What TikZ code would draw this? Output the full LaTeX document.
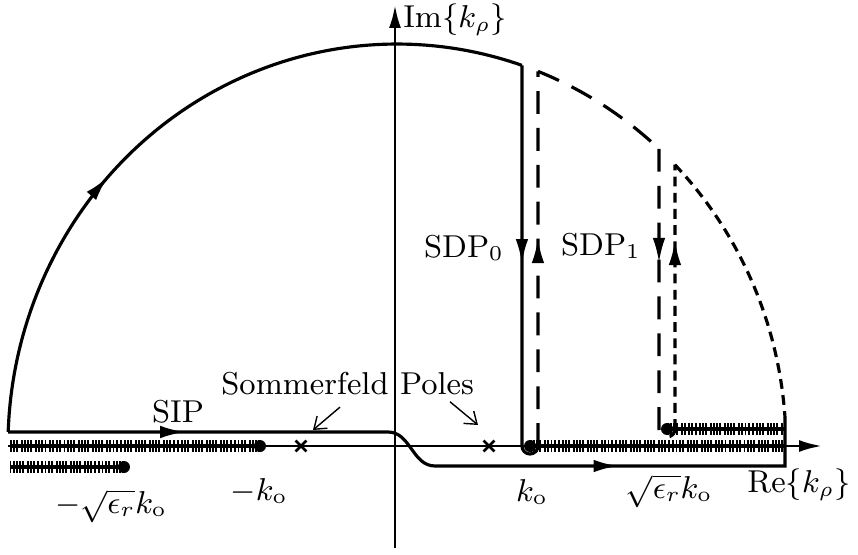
\documentclass[tikz,border=0pt]{standalone}
\usepackage{amsmath}
\usepackage{tikz}
\usetikzlibrary{
arrows.meta,
shapes.misc,
decorations.markings
}

\begin{document}
\begin{tikzpicture}[
font=\small,
axisline/.style={line width=0.8pt,-{Latex[length=2.3mm,width=1.2mm]}},
cntr/.style={line width=0.9pt},
longdash/.style={line width=0.9pt,dash pattern=on 6.5pt off 4pt},
shortdash/.style={line width=0.9pt,dash pattern=on 2.8pt off 1.8pt},
bcut/.style={
line width=0.9pt,
preaction={draw,line width=3.4pt,
dash pattern=on 0.55pt off 0.35pt on 0.55pt off 0.35pt on 0.55pt off 0.35pt on 0.55pt off 0.8pt}
},
bpoint/.style={circle,fill,inner sep=0pt,minimum size=1.2mm},
pole/.style={cross out,draw,line width=0.8pt,inner sep=0pt,minimum size=0.8mm},
tipat/.style={postaction={decorate,decoration={markings,
mark=at position #1 with {\arrow{Latex[length=2.5mm,width=1.25mm]}}}}},
ptr/.style={thin,-{Straight Barb[length=1.1mm,width=1.6mm]}},
rad/.style={x radius=3.89,y radius=4.02}
]
\useasboundingbox (-3.95,-1.08) rectangle (4.63,4.46);

% axes
\coordinate (O) at (0,0);
\draw[axisline] (-3.87,0) -- (4.27,0);
\draw[axisline] (0,-1.02) -- (0,4.41);

% branch points and cuts
\coordinate (mk) at (-1.35,0);
\coordinate (k) at (1.35,0);
\coordinate (mek) at (-2.71,-0.21);
\coordinate (ek) at (2.72,0.17);
\coordinate (cl1) at (-3.85,0);
\coordinate (cl2) at (-3.85,-0.21);
\coordinate (cr1) at (3.90,0);
\coordinate (cr2) at (3.90,0.17);

\draw[bcut] (mk) -- (cl1);
\draw[bcut] (mek) -- (cl2);
\draw[bcut] (k) -- (cr1);
\draw[bcut] (ek) -- (cr2);

\node[bpoint] (dmk) at (mk) {};
\node[bpoint] (dk) at (k) {};
\node[bpoint] (dmek) at (mek) {};
\node[bpoint] (dek) at (ek) {};

\node[pole] (p1) at (-0.94,0) {};
\node[pole] (p2) at (0.94,0) {};

% closing arc and SDP0
\coordinate (A) at (-3.868,0.140);
\draw[cntr,tipat=0.38] (A) arc[rad,start angle=178,end angle=71.26] coordinate (B);
\draw[cntr,tipat=0.49] (B) -- (B |- O) arc[start angle=180,end angle=360,radius=0.08] coordinate (C);
\draw[longdash,tipat=0.555] (C) -- ([shift={(0.02,0)}]68.75:3.89 and 4.02) coordinate (D);
\draw[longdash] (D) arc[rad,start angle=68.75,end angle=47.66] coordinate (E);

% SDP1
\draw[longdash,tipat=0.374] (E) -- (E |- ek) arc[start angle=180,end angle=360,radius=0.08] coordinate (F);
\draw[shortdash,tipat=0.715] (F) -- ([shift={(0.02,0)}]44.4:3.89 and 4.02) coordinate (G);
\draw[shortdash] (G) arc[rad,start angle=44.4,end angle=4.11] coordinate (H);

% SIP
\draw[cntr,tipat=1.77cm,tipat=6.24cm] (A) -- (-0.07,0.14)
to[out=0,in=180] (0.40,-0.2) -- (3.90,-0.2) -- (H);

% labels
\node (lim) at (0.60,4.26) {$\mathrm{Im}\{k_\rho\}$};
\node (lre) at (4.04,-0.39) {$\mathrm{Re}\{k_\rho\}$};
\node (lmek) at (-2.84,-0.60) {$-\sqrt{\epsilon_r}k_\mathrm{o}$};
\node (lmk) at (-1.36,-0.45) {$-k_\mathrm{o}$};
\node (lk) at (1.37,-0.46) {$k_\mathrm{o}$};
\node (lek) at (2.74,-0.45) {$\sqrt{\epsilon_r}k_\mathrm{o}$};
\node (sip) at (-2.17,0.34) {SIP};
\node (sdp0) at (0.69,1.98) {SDP$_0$};
\node (sdp1) at (2.06,2.00) {SDP$_1$};

\node[anchor=base] (som) at (-0.90,0.52) {Sommerfeld};
\node[anchor=base] (pol) at (0.42,0.52) {Poles};
\coordinate (s1) at (-0.82,0.16);
\coordinate (s2) at (0.83,0.21);
\draw[ptr] ([xshift=3.5mm]som.south) -- (s1);
\draw[ptr] ([xshift=1.3mm,yshift=0.5mm]pol.south) -- (s2);

\end{tikzpicture}
\end{document}
